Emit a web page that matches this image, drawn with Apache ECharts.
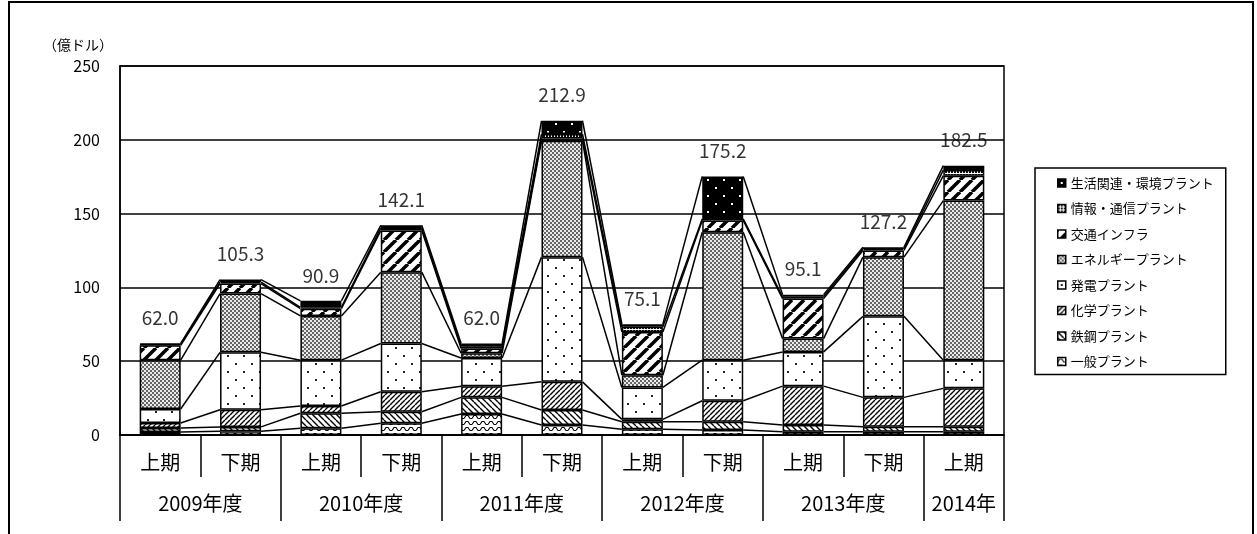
<!DOCTYPE html>
<html><head><meta charset="utf-8">
<script src="https://cdn.jsdelivr.net/npm/echarts@6/dist/echarts.min.js"></script>
<style>html,body{margin:0;padding:0;background:#fff}#c{width:1257px;height:534px}</style>
</head><body><div id="c"></div>
<script>
const categories = ['上期','下期','上期','下期','上期','下期','上期','下期','上期','下期','上期'];
const yearLabels = ['2009年度','2010年度','2011年度','2012年度','2013年度','2014年'];
const yearCenters = [1, 3, 5, 7, 9, 10.5];
const yearBounds = [0, 2, 4, 6, 8, 10, 11];
const totals = [62.0, 105.3, 90.9, 142.1, 62.0, 212.9, 75.1, 175.2, 95.1, 127.2, 182.5];
const ippan    = [2.0, 2.5, 4.5, 7.9, 14.2, 6.8, 3.9, 3.4, 2.2, 2.2, 2.2];
const tekko    = [2.7, 3.0, 10.2, 7.8, 11.3, 10.1, 5.1, 5.6, 4.5, 3.4, 3.4];
const kagaku   = [3.4, 11.6, 4.9, 13.6, 7.6, 19.1, 1.6, 14.2, 26.4, 19.9, 26.0];
const hatsuden = [9.5, 38.9, 31.1, 32.7, 19.1, 84.5, 21.6, 27.5, 23.2, 54.9, 19.1];
const energy   = [33.1, 39.8, 30.0, 48.3, 3.2, 78.8, 8.3, 86.7, 9.0, 40.1, 108.1];
const kotsu    = [10.1, 6.8, 4.9, 28.2, 3.2, 1.6, 29.3, 7.9, 27.1, 4.5, 16.9];
const joho     = [0.6, 1.0, 0.9, 1.8, 1.5, 3.0, 3.5, 1.1, 1.2, 1.0, 3.8];
const seikatsu = [0.6, 1.7, 4.4, 1.8, 1.9, 9.0, 1.8, 28.8, 1.5, 1.2, 3.0];
const seriesNames = ['一般プラント','鉄鋼プラント','化学プラント','発電プラント','エネルギープラント','交通インフラ','情報・通信プラント','生活関連・環境プラント'];
const seriesValues = [ippan, tekko, kagaku, hatsuden, energy, kotsu, joho, seikatsu];

function tile(w, h, draw) {
  const c = document.createElement('canvas'); c.width = w; c.height = h;
  const g = c.getContext('2d'); draw(g, w, h); return c;
}
function diag(g, w, h, lw, forward) {
  g.strokeStyle = '#000'; g.lineWidth = lw; g.beginPath();
  for (let k = -1; k <= 1; k++) {
    if (forward) { g.moveTo(k * w, h); g.lineTo(k * w + w, 0); }
    else { g.moveTo(k * w, 0); g.lineTo(k * w + w, h); }
  }
  g.stroke();
}
const patterns = [
  tile(8, 6, (g) => { g.fillStyle = '#fff'; g.fillRect(0,0,8,6); g.strokeStyle='#000'; g.lineWidth=1.1; g.beginPath(); g.moveTo(0,4.5); g.lineTo(2,1.5); g.lineTo(4,1.5); g.lineTo(6,4.5); g.lineTo(8,4.5); g.stroke(); }),
  tile(6, 6, (g, w, h) => { g.fillStyle = '#fff'; g.fillRect(0,0,w,h); diag(g, w, h, 1.4, false); }),
  tile(5, 5, (g, w, h) => { g.fillStyle = '#fff'; g.fillRect(0,0,w,h); diag(g, w, h, 1.4, true); }),
  tile(16, 16, (g) => { g.fillStyle = '#fff'; g.fillRect(0,0,16,16); g.fillStyle = '#222'; g.fillRect(3,3,2,2); g.fillRect(11,11,2,2); }),
  tile(4, 4, (g) => { g.fillStyle = '#ebebeb'; g.fillRect(0,0,4,4); g.fillStyle = '#666'; g.fillRect(0,0,2,2); g.fillRect(2,2,2,2); }),
  tile(12, 12, (g, w, h) => { g.fillStyle = '#fff'; g.fillRect(0,0,w,h); diag(g, w, h, 3.5, true); }),
  tile(3, 3, (g) => { g.fillStyle = '#fff'; g.fillRect(0,0,3,3); g.fillStyle = '#111'; g.fillRect(0,0,2,2); }),
  tile(16, 16, (g) => { g.fillStyle = '#000'; g.fillRect(0,0,16,16); g.fillStyle = '#fff'; g.fillRect(3,3,2,2); g.fillRect(11,11,2,2); })
];

const BAR_W = 41;
const cum = seriesValues.map((_, s) => categories.map((__, i) => {
  let t = 0; for (let k = 0; k <= s; k++) t += seriesValues[k][i]; return t;
}));

const chart = echarts.init(document.getElementById('c'), null, { renderer: 'canvas' });
const barSeries = seriesNames.map((n, s) => ({
  name: n, type: 'bar', stack: 'all', barWidth: BAR_W, z: 3,
  data: seriesValues[s],
  itemStyle: { color: { image: patterns[s], repeat: 'repeat' }, borderColor: '#000', borderWidth: 1.5 },
  emphasis: { disabled: true }
}));
const gaps = categories.slice(0, -1).map((_, i) => [i, 0]);
const FONT = '"Noto Sans CJK JP", sans-serif';

chart.setOption({
  animation: false,
  grid: { left: 120, right: 253, top: 66, bottom: 99, show: true, borderColor: '#000', borderWidth: 1.5, containLabel: false },
  legend: {
    orient: 'vertical', left: 1035, top: 168,
    data: seriesNames.slice().reverse(),
    icon: 'rect',
    itemWidth: 8, itemHeight: 8, itemGap: 11.5,
    padding: [8, 12, 6, 22],
    borderColor: '#000', borderWidth: 1.5,
    textStyle: { fontSize: 13, color: '#000', fontFamily: FONT, lineHeight: 14 },
    itemStyle: { borderColor: '#000', borderWidth: 1.5 }
  },
  xAxis: [
    { type: 'category', data: categories, position: 'bottom',
      axisLine: { lineStyle: { color: '#000', width: 2 } },
      axisTick: { show: true, interval: 0, length: 42, lineStyle: { color: '#000', width: 1.5 } },
      axisLabel: { interval: 0, fontSize: 20, color: '#000', margin: 17, fontFamily: FONT },
      splitLine: { show: false } },
    { type: 'value', min: 0, max: 11, position: 'bottom',
      axisLine: { show: false },
      axisTick: { show: true, customValues: yearBounds, length: 86, lineStyle: { color: '#000', width: 1.5 } },
      axisLabel: { customValues: yearCenters, fontSize: 20, color: '#000', margin: 58, fontFamily: FONT,
        formatter: (v) => yearLabels[yearCenters.indexOf(v)] || '' },
      splitLine: { show: false } }
  ],
  yAxis: {
    type: 'value', min: 0, max: 250, interval: 50,
    name: '（億ドル）', nameLocation: 'end', nameGap: 14,
    nameTextStyle: { fontSize: 14, color: '#000', fontFamily: FONT, align: 'right', padding: [0, 7, 0, 0] },
    axisLine: { show: true, lineStyle: { color: '#000', width: 1.5 } },
    axisTick: { show: false },
    axisLabel: { fontSize: 16, color: '#000', margin: 20, fontFamily: FONT },
    splitLine: { show: true, lineStyle: { color: '#000', width: 1.5 } }
  },
  series: barSeries.concat([
    { type: 'custom', name: 'lines', xAxisIndex: 0, yAxisIndex: 0, z: 4, silent: true,
      data: gaps, encode: { x: 0, y: 1 },
      renderItem: (params, api) => {
        const i = api.value(0);
        const children = cum.map((c) => {
          const p1 = api.coord([i, c[i]]);
          const p2 = api.coord([i + 1, c[i + 1]]);
          return { type: 'line', shape: { x1: p1[0] + BAR_W / 2, y1: p1[1], x2: p2[0] - BAR_W / 2, y2: p2[1] },
            style: { stroke: '#000', lineWidth: 1.5 } };
        });
        return { type: 'group', children };
      } },
    { type: 'scatter', name: 'totals', xAxisIndex: 0, yAxisIndex: 0, symbolSize: 0, z: 5, silent: true,
      data: totals,
      label: { show: true, position: 'top', distance: 16, fontSize: 19, color: '#000', fontFamily: FONT,
        formatter: (p) => p.value.toFixed(1) } }
  ]),
  graphic: [
    { type: 'rect', shape: { x: 9, y: 2, width: 1244, height: 545 }, style: { fill: 'none', stroke: '#000', lineWidth: 2 }, silent: true }
  ]
});
</script></body></html>
